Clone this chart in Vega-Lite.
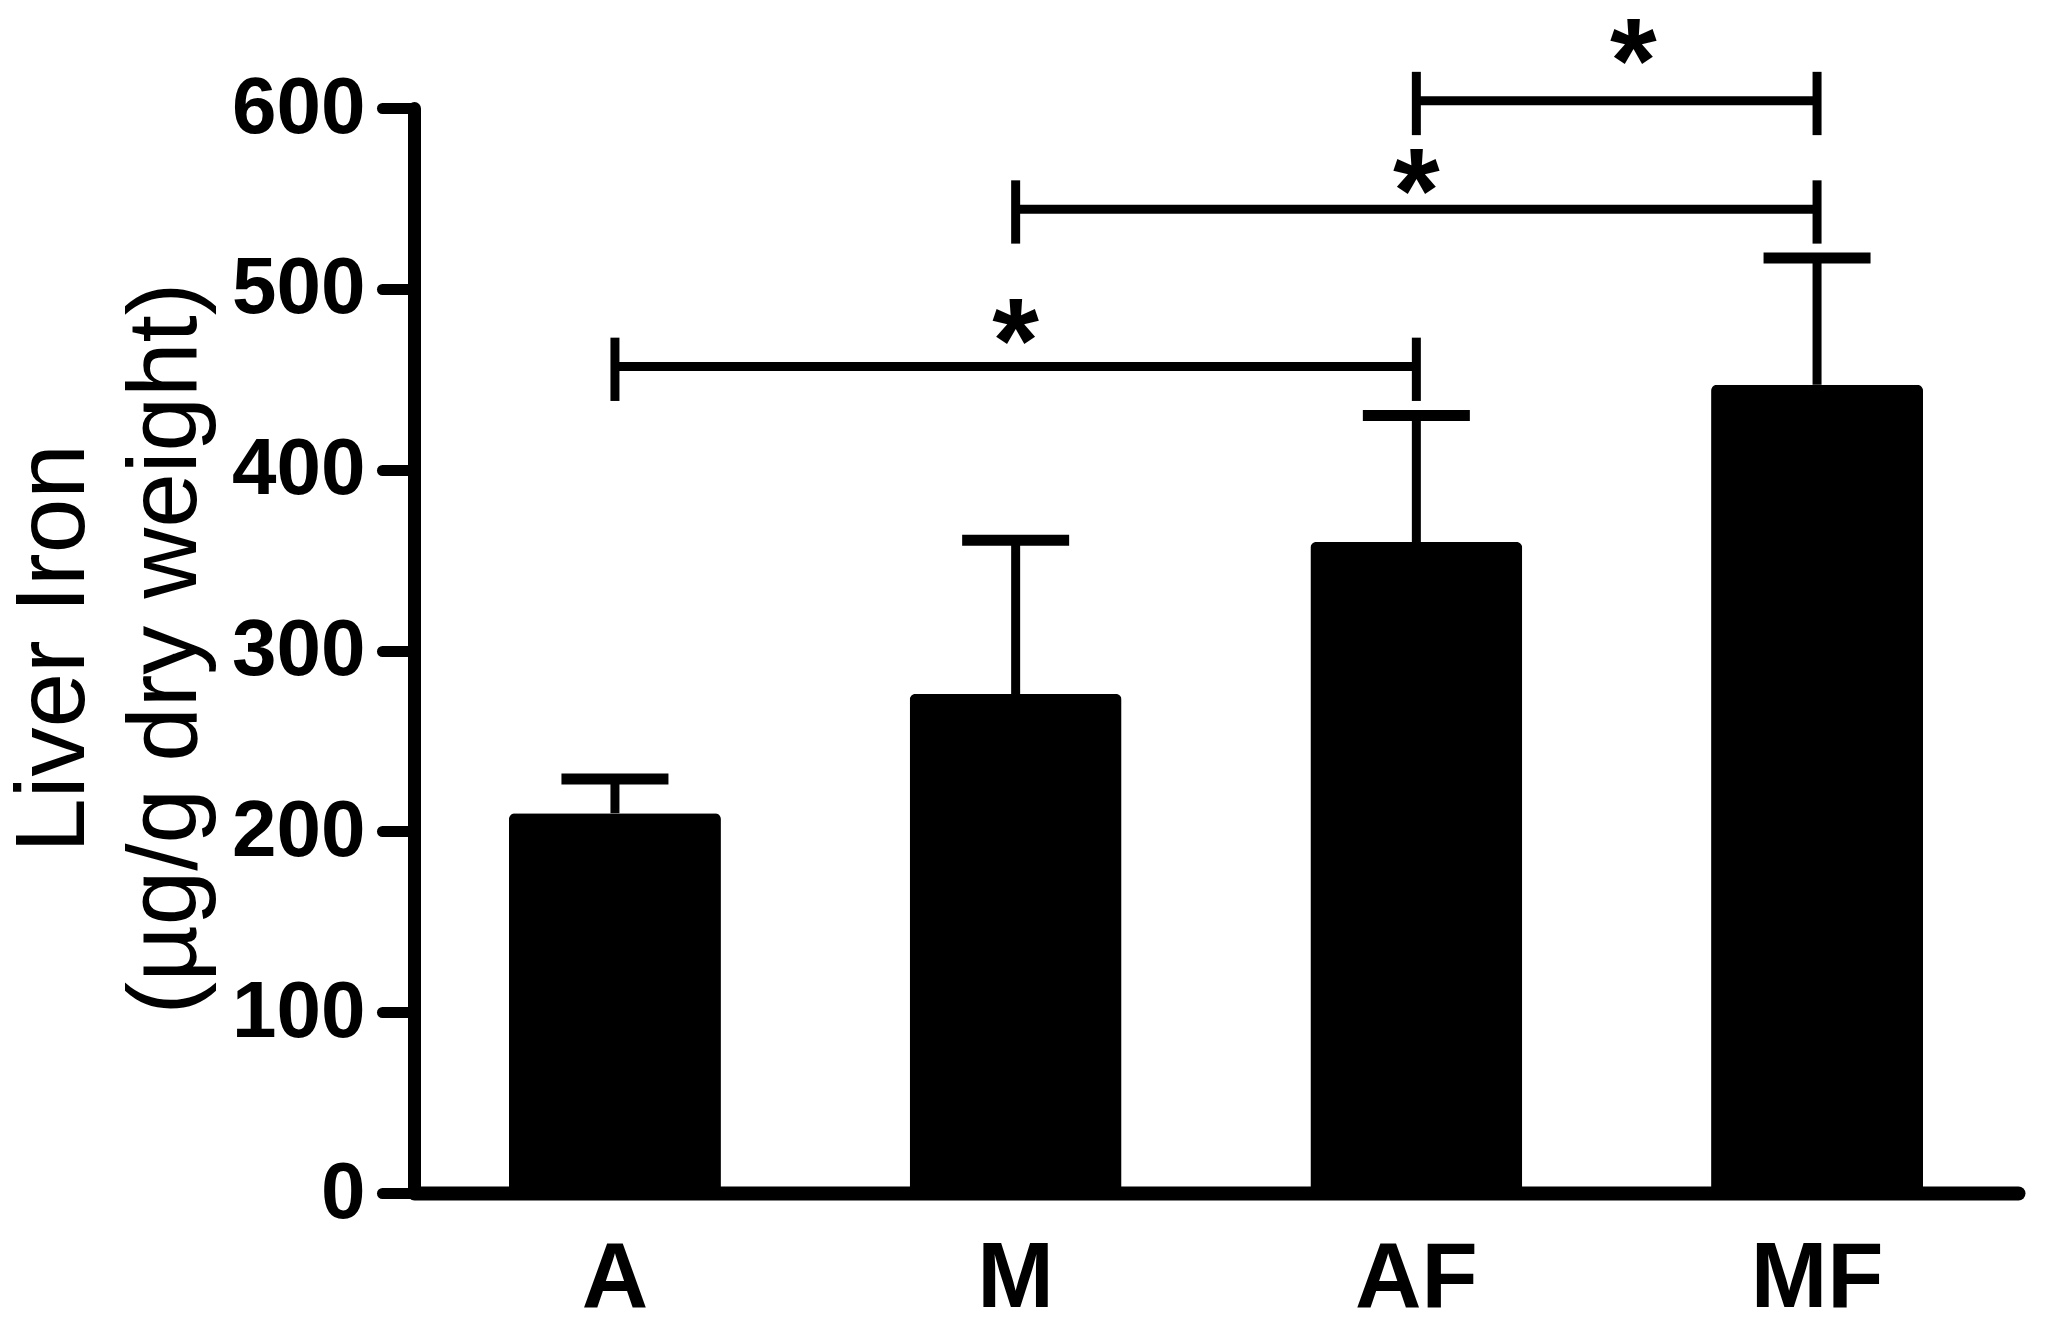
{
  "$schema": "https://vega.github.io/schema/vega-lite/v6.json",
  "width": 1604,
  "height": 1085,
  "autosize": {"type": "none"},
  "padding": {"left": 414, "top": 108, "right": 30, "bottom": 135},
  "background": "white",
  "config": {"view": {"stroke": null}, "font": "Liberation Sans"},
  "datasets": {
    "bars": [
      {"group": "A", "mean": 210, "upper": 229},
      {"group": "M", "mean": 276, "upper": 361},
      {"group": "AF", "mean": 360, "upper": 430},
      {"group": "MF", "mean": 447, "upper": 517}
    ],
    "brackets": [
      {"from": "A", "to": "AF", "y": 457},
      {"from": "M", "to": "MF", "y": 544},
      {"from": "AF", "to": "MF", "y": 604}
    ],
    "ends": [
      {"group": "A", "lo": 438, "hi": 473},
      {"group": "AF", "lo": 438, "hi": 473},
      {"group": "M", "lo": 525, "hi": 560},
      {"group": "MF", "lo": 525, "hi": 560},
      {"group": "AF", "lo": 585, "hi": 620},
      {"group": "MF", "lo": 585, "hi": 620}
    ],
    "stars": [
      {"group": "M", "y": 479, "label": "*"},
      {"group": "AF", "y": 562, "label": "*"}
    ],
    "star3": [
      {"group": "AF", "y": 634, "label": "*"}
    ]
  },
  "layer": [
    {
      "data": {"name": "bars"},
      "mark": {"type": "bar", "color": "black", "cornerRadiusTopLeft": 6, "cornerRadiusTopRight": 6},
      "encoding": {
        "x": {
          "field": "group", "type": "nominal",
          "scale": {"domain": ["A", "M", "AF", "MF"], "paddingInner": 0.471, "paddingOuter": 0.237},
          "axis": {
            "title": null, "labelAngle": 0, "labelFontSize": 92, "labelFontWeight": "bold",
            "labelColor": "black", "labelFont": "Liberation Sans", "ticks": false, "tickSize": 0,
            "labelPadding": 40, "labelBaseline": "top", "domainWidth": 14, "domainColor": "black",
            "domainCap": "round"
          }
        },
        "y": {
          "field": "mean", "type": "quantitative",
          "scale": {"domain": [0, 600], "nice": false},
          "axis": {
            "values": [0, 100, 200, 300, 400, 500, 600],
            "title": ["Liver Iron", "(µg/g dry weight)"],
            "grid": false,
            "labelFontSize": 80, "labelFontWeight": "bold", "labelColor": "black",
            "labelFont": "Liberation Sans", "labelPadding": 17,
            "tickSize": 32, "tickWidth": 11, "tickColor": "black", "tickCap": "round",
            "domainWidth": 13, "domainColor": "black", "domainCap": "round",
            "titleFont": "Liberation Sans", "titleFontSize": 98, "titleFontWeight": "normal",
            "titleColor": "black", "titleAngle": -90, "titleX": -310, "titleY": 540,
            "titleAlign": "center", "titleBaseline": "bottom", "titleLineHeight": 112
          }
        }
      }
    },
    {
      "data": {"name": "bars"},
      "mark": {"type": "rule", "color": "black", "strokeWidth": 9},
      "encoding": {
        "x": {"field": "group", "type": "nominal"},
        "y": {"field": "mean", "type": "quantitative"},
        "y2": {"field": "upper"}
      }
    },
    {
      "data": {"name": "bars"},
      "mark": {"type": "tick", "color": "black", "size": 107, "thickness": 11, "opacity": 1},
      "encoding": {
        "x": {"field": "group", "type": "nominal"},
        "y": {"field": "upper", "type": "quantitative"}
      }
    },
    {
      "data": {"name": "brackets"},
      "mark": {"type": "rule", "color": "black", "strokeWidth": 9},
      "encoding": {
        "x": {"field": "from", "type": "nominal"},
        "x2": {"field": "to"},
        "y": {"field": "y", "type": "quantitative"}
      }
    },
    {
      "data": {"name": "ends"},
      "mark": {"type": "rule", "color": "black", "strokeWidth": 9},
      "encoding": {
        "x": {"field": "group", "type": "nominal"},
        "y": {"field": "lo", "type": "quantitative"},
        "y2": {"field": "hi"}
      }
    },
    {
      "data": {"name": "stars"},
      "mark": {"type": "text", "color": "black", "fontSize": 120, "fontWeight": "bold", "font": "Liberation Sans", "baseline": "alphabetic", "align": "center", "dy": 55},
      "encoding": {
        "x": {"field": "group", "type": "nominal"},
        "y": {"field": "y", "type": "quantitative"},
        "text": {"field": "label"}
      }
    },
    {
      "data": {"name": "star3"},
      "mark": {"type": "text", "color": "black", "fontSize": 120, "fontWeight": "bold", "font": "Liberation Sans", "baseline": "alphabetic", "align": "center", "dy": 55, "dx": 217},
      "encoding": {
        "x": {"field": "group", "type": "nominal"},
        "y": {"field": "y", "type": "quantitative"},
        "text": {"field": "label"}
      }
    }
  ]
}
